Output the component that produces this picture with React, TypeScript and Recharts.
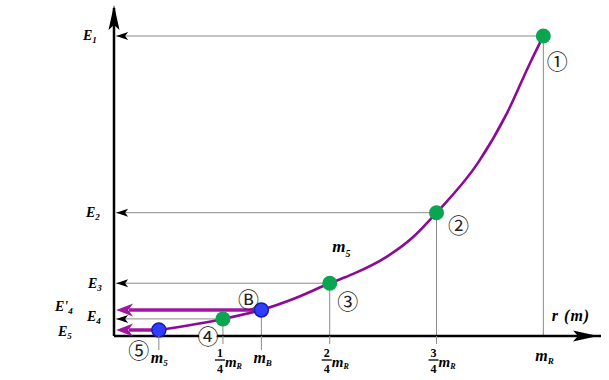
import React from 'react';
import {
  ComposedChart, Line, Scatter, XAxis, YAxis, ReferenceLine, ReferenceDot,
} from 'recharts';

// states on the curve (r in units of m_R, E in units of E1)
const greenNames = ['①', '②', '③', '④'];
const greenR = [1, 0.75, 0.5, 0.25];
const greenE = [100, 41.1, 17.6, 5.7];

const blueNames = ['Ⓑ', '⑤'];
const blueR = [0.34, 0.1];
const blueE = [8.7, 2];

// energy curve
const curveR = [0.1, 0.25, 0.34, 0.419, 0.5, 0.555, 0.633, 0.696, 0.75, 0.847, 0.915, 0.969, 1];
const curveE = [2, 5.7, 8.7, 12.6, 17.6, 20.7, 26.4, 33.1, 41.1, 57.7, 74.3, 91, 100];

// axis ticks
const xTicks = [0.1, 0.25, 0.34, 0.5, 0.75, 1];
const xTickNumer = ['', '1', '', '2', '3', ''];
const xTickSub = ['5', 'R', 'B', 'R', 'R', 'R'];

const yTicks = [100, 41.1, 17.6, 8.7, 5.7, 2];
const yTickMain = ['E', 'E', 'E', "E'", 'E', 'E'];
const yTickSub = ['1', '2', '3', '4', '4', '5'];

const X_MIN = -0.005;
const X_MAX = 1.135;
const Y_MAX = 109.33;

// layout tweaks (not data)
const Y_LABEL_DX = [-31, -28, -26, -59, -27, -56];
const Y_LABEL_DY = [4, 4, 5, 1, 2, 6];
const CIRCLE_OFFSET: Record<string, [number, number]> = {
  '①': [14, 24],
  '②': [22, 11],
  '③': [18, 17],
  '④': [-15, 16],
  '⑤': [-20, 19],
  'Ⓑ': [-13, -12],
};

const GREY = '#8a8a8a';
const PURPLE = '#8b0a96';
const MAGENTA = '#a0169f';
const GREEN = '#0aa550';
const SERIF = '"Liberation Serif", "Times New Roman", serif';

const curve = curveR.map((r, i) => ({ r, e: curveE[i] }));
const greenPts = greenR.map((r, i) => ({ r, e: greenE[i], name: greenNames[i] }));
const bluePts = blueR.map((r, i) => ({ r, e: blueE[i], name: blueNames[i] }));

function XTick(props: any) {
  const { x, y, index } = props;
  const numer = xTickNumer[index];
  const sub = xTickSub[index];
  const isMR = index === xTicks.length - 1;
  const len = isMR ? 0 : numer ? 8 : 14;
  return (
    <g>
      {len > 0 && <line x1={x} y1={y} x2={x} y2={y + len} stroke={GREY} strokeWidth={1} />}
      {numer ? (
        <g fontFamily={SERIF} fontWeight="bold" fill="#000">
          <text x={x - 3} y={y + 21} textAnchor="middle" fontSize={12}>{numer}</text>
          <line x1={x - 8} x2={x + 2} y1={y + 24} y2={y + 24} stroke="#000" strokeWidth={1.3} />
          <text x={x - 3} y={y + 37} textAnchor="middle" fontSize={12}>4</text>
          <text x={x + 2} y={y + 31} fontSize={15} fontStyle="italic">
            m<tspan fontSize={8} dy={2}>{sub}</tspan>
          </text>
        </g>
      ) : (
        <text x={x - 8} y={y + (isMR ? 25 : 27)} fontFamily={SERIF} fontWeight="bold" fontStyle="italic" fontSize={16} fill="#000">
          m<tspan fontSize={9} dy={3}>{sub}</tspan>
        </text>
      )}
    </g>
  );
}

function YTick(props: any) {
  const { x, y, index } = props;
  return (
    <text
      x={x + Y_LABEL_DX[index]}
      y={y + Y_LABEL_DY[index]}
      fontFamily={SERIF}
      fontWeight="bold"
      fontStyle="italic"
      fontSize={14}
      fill="#000"
    >
      {yTickMain[index]}
      <tspan fontSize={9} dy={3}>{yTickSub[index]}</tspan>
    </text>
  );
}

const upArrow = ({ cx, cy }: any) => (
  <polygon points={`${cx},${cy - 3} ${cx + 5.5},${cy + 22} ${cx},${cy + 17} ${cx - 5.5},${cy + 22}`} fill="#000" />
);
const rightArrow = ({ cx, cy }: any) => (
  <polygon points={`${cx - 3},${cy} ${cx - 28},${cy - 5.5} ${cx - 23},${cy} ${cx - 28},${cy + 5.5}`} fill="#000" />
);
const smallLeftArrow = ({ cx, cy }: any) => (
  <polygon points={`${cx},${cy} ${cx + 12},${cy - 4} ${cx + 9},${cy} ${cx + 12},${cy + 4}`} fill="#000" />
);
const purpleLeftArrow = ({ cx, cy }: any) => (
  <polygon points={`${cx},${cy} ${cx + 17},${cy - 6.5} ${cx + 12},${cy} ${cx + 17},${cy + 6.5}`} fill={MAGENTA} />
);

function circleLabel(name: string) {
  const [dx, dy] = CIRCLE_OFFSET[name];
  return ({ cx, cy }: any) => (
    <g>
      <circle cx={cx + dx} cy={cy + dy} r={9} fill="#fff" />
      <text
        x={cx + dx}
        y={cy + dy}
        textAnchor="middle"
        dominantBaseline="central"
        fontFamily='"Noto Sans CJK JP", "DejaVu Sans", sans-serif'
        fontSize={21}
        fill="#222"
      >
        {name}
      </text>
    </g>
  );
}

export default function App() {
  return (
    <div style={{ width: 609, height: 380, background: '#fff' }}>
      <style>{'body{margin:0}'}</style>
      <ComposedChart width={609} height={380} margin={{ top: 8, right: 8, left: 54, bottom: 0 }}>
        <XAxis
          type="number"
          dataKey="r"
          domain={[X_MIN, X_MAX]}
          ticks={xTicks}
          interval={0}
          tick={<XTick />}
          tickLine={false}
          tickSize={0}
          tickMargin={0}
          height={44}
          axisLine={{ stroke: '#000', strokeWidth: 2.5 }}
        />
        <YAxis
          type="number"
          dataKey="e"
          domain={[0, Y_MAX]}
          ticks={yTicks}
          interval={0}
          tick={<YTick />}
          tickLine={false}
          tickSize={0}
          tickMargin={0}
          width={60}
          axisLine={{ stroke: '#000', strokeWidth: 2.5 }}
        />

        {/* grey guides for the green states */}
        {greenPts.map((p) => (
          <ReferenceLine key={`h${p.name}`} segment={[{ x: 0, y: p.e }, { x: p.r, y: p.e }]} stroke={GREY} strokeWidth={1} />
        ))}
        {[...greenPts, ...bluePts].map((p) => (
          <ReferenceLine key={`v${p.name}`} segment={[{ x: p.r, y: p.e }, { x: p.r, y: 0 }]} stroke={GREY} strokeWidth={1} />
        ))}
        {/* emitted energies */}
        {bluePts.map((p) => (
          <ReferenceLine key={`p${p.name}`} segment={[{ x: 0.03, y: p.e }, { x: p.r, y: p.e }]} stroke={MAGENTA} strokeWidth={3.5} />
        ))}

        <Line data={curve} dataKey="e" type="monotone" stroke={PURPLE} strokeWidth={2.6} dot={false} isAnimationActive={false} />
        <Scatter
          data={greenPts}
          isAnimationActive={false}
          shape={(p: any) => <circle cx={p.cx} cy={p.cy} r={7.5} fill={GREEN} />}
        />
        <Scatter
          data={bluePts}
          isAnimationActive={false}
          shape={(p: any) => <circle cx={p.cx} cy={p.cy} r={7} fill="#2f3dff" stroke="#1a1ab0" strokeWidth={1.5} />}
        />

        {/* arrowheads */}
        <ReferenceDot x={X_MIN} y={Y_MAX} r={0} shape={upArrow} />
        <ReferenceDot x={X_MAX} y={0} r={0} shape={rightArrow} />
        {greenPts.map((p) => (
          <ReferenceDot key={`a${p.name}`} x={0} y={p.e} r={0} shape={smallLeftArrow} />
        ))}
        {bluePts.map((p) => (
          <ReferenceDot key={`b${p.name}`} x={0} y={p.e} r={0} shape={purpleLeftArrow} />
        ))}

        {/* circled state labels */}
        {[...greenPts, ...bluePts].map((p) => (
          <ReferenceDot key={`c${p.name}`} x={p.r} y={p.e} r={0} shape={circleLabel(p.name)} />
        ))}

        {/* text annotations */}
        <ReferenceDot
          x={0.506}
          y={28}
          r={0}
          shape={({ cx, cy }: any) => (
            <text x={cx} y={cy} fontFamily={SERIF} fontWeight="bold" fontStyle="italic" fontSize={17} fill="#000">
              m<tspan fontSize={10} dy={5}>5</tspan>
            </text>
          )}
        />
        <ReferenceDot
          x={1.02}
          y={5}
          r={0}
          shape={({ cx, cy }: any) => (
            <text x={cx} y={cy} fontFamily={SERIF} fontWeight="bold" fontStyle="italic" fontSize={16} fill="#000" letterSpacing={1}>
              r (m)
            </text>
          )}
        />
      </ComposedChart>
    </div>
  );
}
